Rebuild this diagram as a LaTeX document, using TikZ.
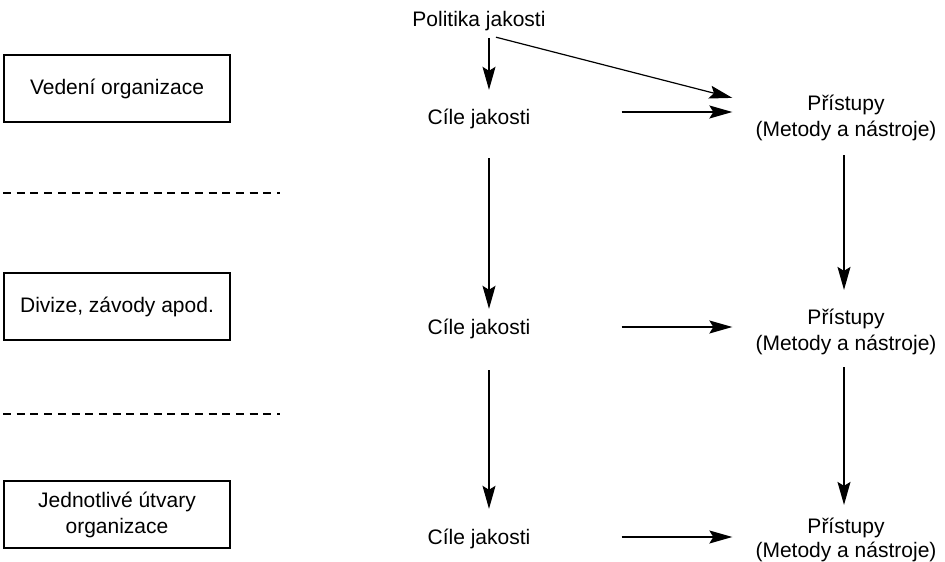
\documentclass[tikz,border=0pt]{standalone}
\usepackage{fontspec}
\setmainfont{Liberation Sans}
\usetikzlibrary{arrows.meta}
\tikzset{
  lbl/.style={font=\fontsize{21pt}{26pt}\selectfont, inner sep=0pt, align=center},
  one/.style={lbl, text height=15pt, text depth=5pt},
  lvl/.style={lbl, draw, line width=1.1pt, minimum width=226pt, minimum height=67pt},
  arr/.style={line width=1.2pt, -{Stealth[length=23pt,width=13pt,inset=4pt]}},
  sep/.style={line width=1.1pt, dash pattern=on 8pt off 5.7pt}
}
\begin{document}
\begin{tikzpicture}[x=1pt,y=-1pt]
\useasboundingbox (0,0) rectangle (945,562);
% left level boxes
\node[lvl] (b1) at (117,88.5) {Vedení organizace};
\node[lvl] (b2) at (117,306.5) {Divize, závody apod.};
\node[lvl] (b3) at (117,514.5) {Jednotlivé útvary\\organizace};
\draw[sep] (3,193) -- (280,193);
\draw[sep] (3,414) -- (280,414);
% main column
\node[one] (pol) at (479,22) {Politika jakosti};
\node[one] (c1) at (479,119) {Cíle jakosti};
\node[one] (c2) at (479,329) {Cíle jakosti};
\node[one] (c3) at (479,539) {Cíle jakosti};
\node[lbl] (p1) at (846,118) {Přístupy\\(Metody a nástroje)};
\node[lbl] (p2) at (846,332) {Přístupy\\(Metody a nástroje)};
\node[lbl, font=\fontsize{21pt}{24pt}\selectfont] (p3) at (846,540) {Přístupy\\(Metody a nástroje)};
% arrows
\draw[arr] ([xshift=10pt,yshift=-6pt]pol.south) -- ([xshift=10pt,yshift=19pt]c1.north);
\draw[arr] ([xshift=17pt,yshift=-5pt]pol.south) -- ([xshift=-23pt,yshift=-3pt]p1.north west);
\draw[arr, shorten <=91pt, shorten >=23pt] ([yshift=7pt]c1.east) -- ([yshift=7pt]c1.east -| p1.west);
\draw[arr, shorten <=91pt, shorten >=23pt] ([yshift=2pt]c2.east) -- ([yshift=2pt]c2.east -| p2.west);
\draw[arr, shorten <=91pt, shorten >=23pt] ([yshift=2pt]c3.east) -- ([yshift=2pt]c3.east -| p3.west);
\draw[arr, shorten <=29pt, shorten >=10pt] ([xshift=10pt]c1.south) -- ([xshift=10pt]c2.north);
\draw[arr, shorten <=31pt, shorten >=20pt] ([xshift=10pt]c2.south) -- ([xshift=10pt]c3.north);
\draw[arr, shorten <=14pt, shorten >=19pt] ([xshift=-2pt]p1.south) -- ([xshift=-2pt]p2.north);
\draw[arr, shorten <=12pt, shorten >=13pt] ([xshift=-2pt]p2.south) -- ([xshift=-2pt]p3.north);
\end{tikzpicture}
\end{document}
